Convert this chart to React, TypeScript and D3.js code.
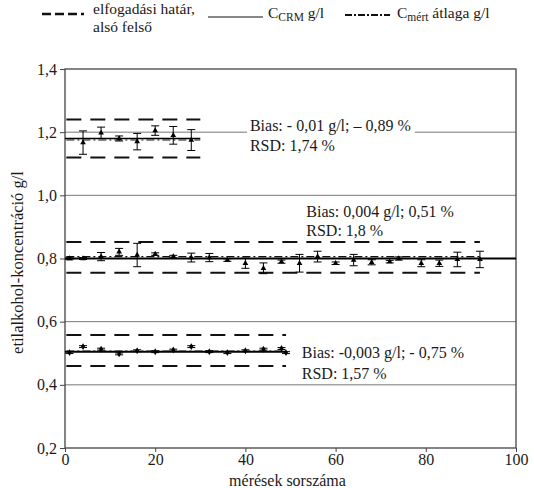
import React, { useEffect, useRef } from 'react';
import * as d3 from 'd3';

// x positions (measurement index), means and error half-widths per concentration group
const group1X = [4, 8, 12, 16, 20, 24, 28];
const group1Y = [1.167, 1.198, 1.18, 1.17, 1.205, 1.19, 1.175];
const group1Err = [0.037, 0.018, 0.008, 0.026, 0.015, 0.028, 0.033];

const group2X = [1, 4, 8, 12, 16, 20, 24, 28, 32, 36, 40, 44, 48, 52, 56, 60, 64, 68, 72, 74, 79, 83, 87, 92];
const group2Y = [0.8, 0.8, 0.806, 0.821, 0.811, 0.814, 0.806, 0.803, 0.803, 0.795, 0.785, 0.769, 0.79, 0.785, 0.806, 0.785, 0.795, 0.788, 0.79, 0.8, 0.785, 0.785, 0.797, 0.797];
const group2Err = [0.004, 0.003, 0.013, 0.011, 0.037, 0.004, 0.004, 0.014, 0.013, 0.004, 0.016, 0.017, 0.005, 0.028, 0.017, 0.004, 0.018, 0.008, 0.004, 0.005, 0.011, 0.01, 0.023, 0.026];

const group3X = [1, 4, 8, 12, 16, 20, 24, 28, 32, 36, 40, 44, 48, 49];
const group3Y = [0.502, 0.521, 0.513, 0.498, 0.508, 0.505, 0.51, 0.521, 0.505, 0.502, 0.508, 0.513, 0.515, 0.502];
const group3Err = [0.003, 0.003, 0.003, 0.003, 0.003, 0.003, 0.003, 0.003, 0.003, 0.003, 0.003, 0.003, 0.003, 0.003];

// reference lines per group
const crmValue = [1.18, 0.8, 0.505];
const crmEnd = [30, 100, 49];
const lowerLimit = [1.12, 0.755, 0.46];
const upperLimit = [1.24, 0.852, 0.558];
const meanValue = [1.175, 0.806, 0.507];
const limitEnd = [30, 92, 49];

// annotation texts (x in measurement units, y baselines in g/l)
const biasTexts = ['Bias: - 0,01 g/l; \u2013 0,89 %', 'Bias: 0,004 g/l; 0,51 %', 'Bias: -0,003 g/l; - 0,75 %'];
const rsdTexts = ['RSD: 1,74 %', 'RSD: 1,8 %', 'RSD: 1,57 %'];
const textX = [41, 53.5, 52.5];
const biasY = [1.204, 0.93, 0.484];
const rsdY = [1.141, 0.87, 0.418];

const yTicks = [0.2, 0.4, 0.6, 0.8, 1.0, 1.2, 1.4];
const xTicks = [0, 20, 40, 60, 80, 100];

const FONT = '"Liberation Serif", "Times New Roman", serif';

function App() {
    const ref = useRef(null);

    useEffect(() => {
        drawChart();
    }, []);

    function drawChart() {
        const svg = d3.select(ref.current);
        svg.selectAll('*').remove();

        const left = 65, right = 516, top = 69, bottom = 448;

        const x = d3.scaleLinear().domain([0, 100]).range([left, right]);
        const y = d3.scaleLinear().domain([0.2, 1.4]).range([bottom, top]);
        const fmt = (v) => d3.format('.1f')(v).replace('.', ',');

        const txt = (sel, size) => sel.style('font-family', FONT).style('font-size', size + 'px').attr('fill', '#1a1a1a');

        // gridlines
        svg.append('g')
            .selectAll('line')
            .data(yTicks.filter(t => t > 0.2 && t < 1.4))
            .join('line')
            .attr('x1', left).attr('x2', right)
            .attr('y1', d => y(d)).attr('y2', d => y(d))
            .attr('stroke', '#777').attr('stroke-width', 1);

        // frame
        svg.append('rect')
            .attr('x', left).attr('y', top)
            .attr('width', right - left).attr('height', bottom - top)
            .attr('fill', 'none').attr('stroke', '#444').attr('stroke-width', 1.3);

        // axes
        const yAxis = svg.append('g')
            .attr('transform', `translate(${left},0)`)
            .call(d3.axisLeft(y).tickValues(yTicks).tickFormat(fmt).tickSize(5).tickPadding(3));
        const xAxis = svg.append('g')
            .attr('transform', `translate(0,${bottom})`)
            .call(d3.axisBottom(x).tickValues(xTicks).tickSize(4).tickPadding(2));
        [yAxis, xAxis].forEach(a => {
            a.attr('font-family', null).attr('font-size', null);
            a.select('.domain').remove();
            a.selectAll('line').attr('stroke', '#444');
            txt(a.selectAll('text'), 16);
        });

        // axis titles
        txt(svg.append('text'), 16.5)
            .attr('transform', `translate(23,${(top + bottom) / 2 + 4}) rotate(-90)`)
            .attr('text-anchor', 'middle')
            .text('etilalkohol-koncentráció g/l');
        txt(svg.append('text'), 16)
            .attr('x', (left + right) / 2 - 3).attr('y', 486)
            .attr('text-anchor', 'middle')
            .text('mérések sorszáma');

        // annotation texts (with white backing so the grid breaks behind them)
        for (let i = 0; i < 3; i++) {
            const g = svg.append('g');
            const t1 = txt(g.append('text'), 16)
                .attr('x', x(textX[i])).attr('y', y(biasY[i]))
                .text(biasTexts[i]);
            const t2 = txt(g.append('text'), 16)
                .attr('x', x(textX[i])).attr('y', y(rsdY[i]))
                .text(rsdTexts[i]);
            const b1 = t1.node().getBBox();
            const b2 = t2.node().getBBox();
            const bx = Math.min(b1.x, b2.x) - 3;
            const bw = Math.max(b1.x + b1.width, b2.x + b2.width) + 4 - bx;
            g.insert('rect', 'text')
                .attr('x', bx).attr('y', b1.y - 1)
                .attr('width', bw).attr('height', b2.y + b2.height - b1.y + 2)
                .attr('fill', '#fff');
        }

        // reference lines
        for (let i = 0; i < 3; i++) {
            [lowerLimit[i], upperLimit[i]].forEach(v => {
                svg.append('line')
                    .attr('x1', x(0.3)).attr('x2', x(limitEnd[i]))
                    .attr('y1', y(v)).attr('y2', y(v))
                    .attr('stroke', '#111').attr('stroke-width', 2)
                    .attr('stroke-dasharray', '15,9');
            });
            svg.append('line')
                .attr('x1', x(0)).attr('x2', x(crmEnd[i]))
                .attr('y1', y(crmValue[i])).attr('y2', y(crmValue[i]))
                .attr('stroke', '#000').attr('stroke-width', i === 0 ? 1.5 : 2);
            svg.append('line')
                .attr('x1', x(0.3)).attr('x2', x(limitEnd[i]))
                .attr('y1', y(meanValue[i])).attr('y2', y(meanValue[i]))
                .attr('stroke', '#111').attr('stroke-width', 1.1)
                .attr('stroke-dasharray', '8,3,2,3');
        }

        // error bars + markers
        const groups = [
            { xs: group1X, ys: group1Y, es: group1Err, sym: d3.symbolTriangle },
            { xs: group2X, ys: group2Y, es: group2Err, sym: d3.symbolTriangle },
            { xs: group3X, ys: group3Y, es: group3Err, sym: d3.symbolDiamond },
        ];
        groups.forEach(gr => {
            const data = gr.xs.map((xv, i) => ({ x: xv, y: gr.ys[i], e: gr.es[i] }));
            const g = svg.append('g').attr('stroke', '#000').attr('stroke-width', 1);
            data.forEach(d => {
                const cx = x(d.x);
                g.append('line').attr('x1', cx).attr('x2', cx).attr('y1', y(d.y - d.e)).attr('y2', y(d.y + d.e));
                g.append('line').attr('x1', cx - 4).attr('x2', cx + 4).attr('y1', y(d.y - d.e)).attr('y2', y(d.y - d.e));
                g.append('line').attr('x1', cx - 4).attr('x2', cx + 4).attr('y1', y(d.y + d.e)).attr('y2', y(d.y + d.e));
            });
            svg.append('g')
                .selectAll('path')
                .data(data)
                .join('path')
                .attr('transform', d => `translate(${x(d.x)},${y(d.y)})`)
                .attr('d', d3.symbol().type(gr.sym).size(14))
                .attr('fill', '#000');
        });

        // legend
        const lg = txt(svg.append('g'), 15.5);
        lg.append('line').attr('x1', 42).attr('x2', 84).attr('y1', 14).attr('y2', 14)
            .attr('stroke', '#111').attr('stroke-width', 2.5).attr('stroke-dasharray', '9,4');
        lg.append('text').attr('x', 93).attr('y', 14).text('elfogadási határ,');
        lg.append('text').attr('x', 93).attr('y', 32).text('alsó felső');
        lg.append('line').attr('x1', 208).attr('x2', 263).attr('y1', 17).attr('y2', 17)
            .attr('stroke', '#111').attr('stroke-width', 1);
        const t1 = lg.append('text').attr('x', 268).attr('y', 18);
        t1.append('tspan').text('C');
        t1.append('tspan').style('font-size', '11.5px').attr('dy', 3).text('CRM');
        t1.append('tspan').attr('dy', -3).text(' g/l');
        lg.append('line').attr('x1', 345).attr('x2', 390).attr('y1', 15).attr('y2', 15)
            .attr('stroke', '#111').attr('stroke-width', 2).attr('stroke-dasharray', '7,2,2,2');
        const t2 = lg.append('text').attr('x', 397).attr('y', 18);
        t2.append('tspan').text('C');
        t2.append('tspan').style('font-size', '11.5px').attr('dy', 3).text('mért');
        t2.append('tspan').attr('dy', -3).text(' átlaga g/l');
    }

    return (
        <div>
            <svg ref={ref} width={534} height={488} style={{ position: 'absolute', left: 0, top: 0, background: '#fff' }}></svg>
        </div>
    );
}

export default App;
